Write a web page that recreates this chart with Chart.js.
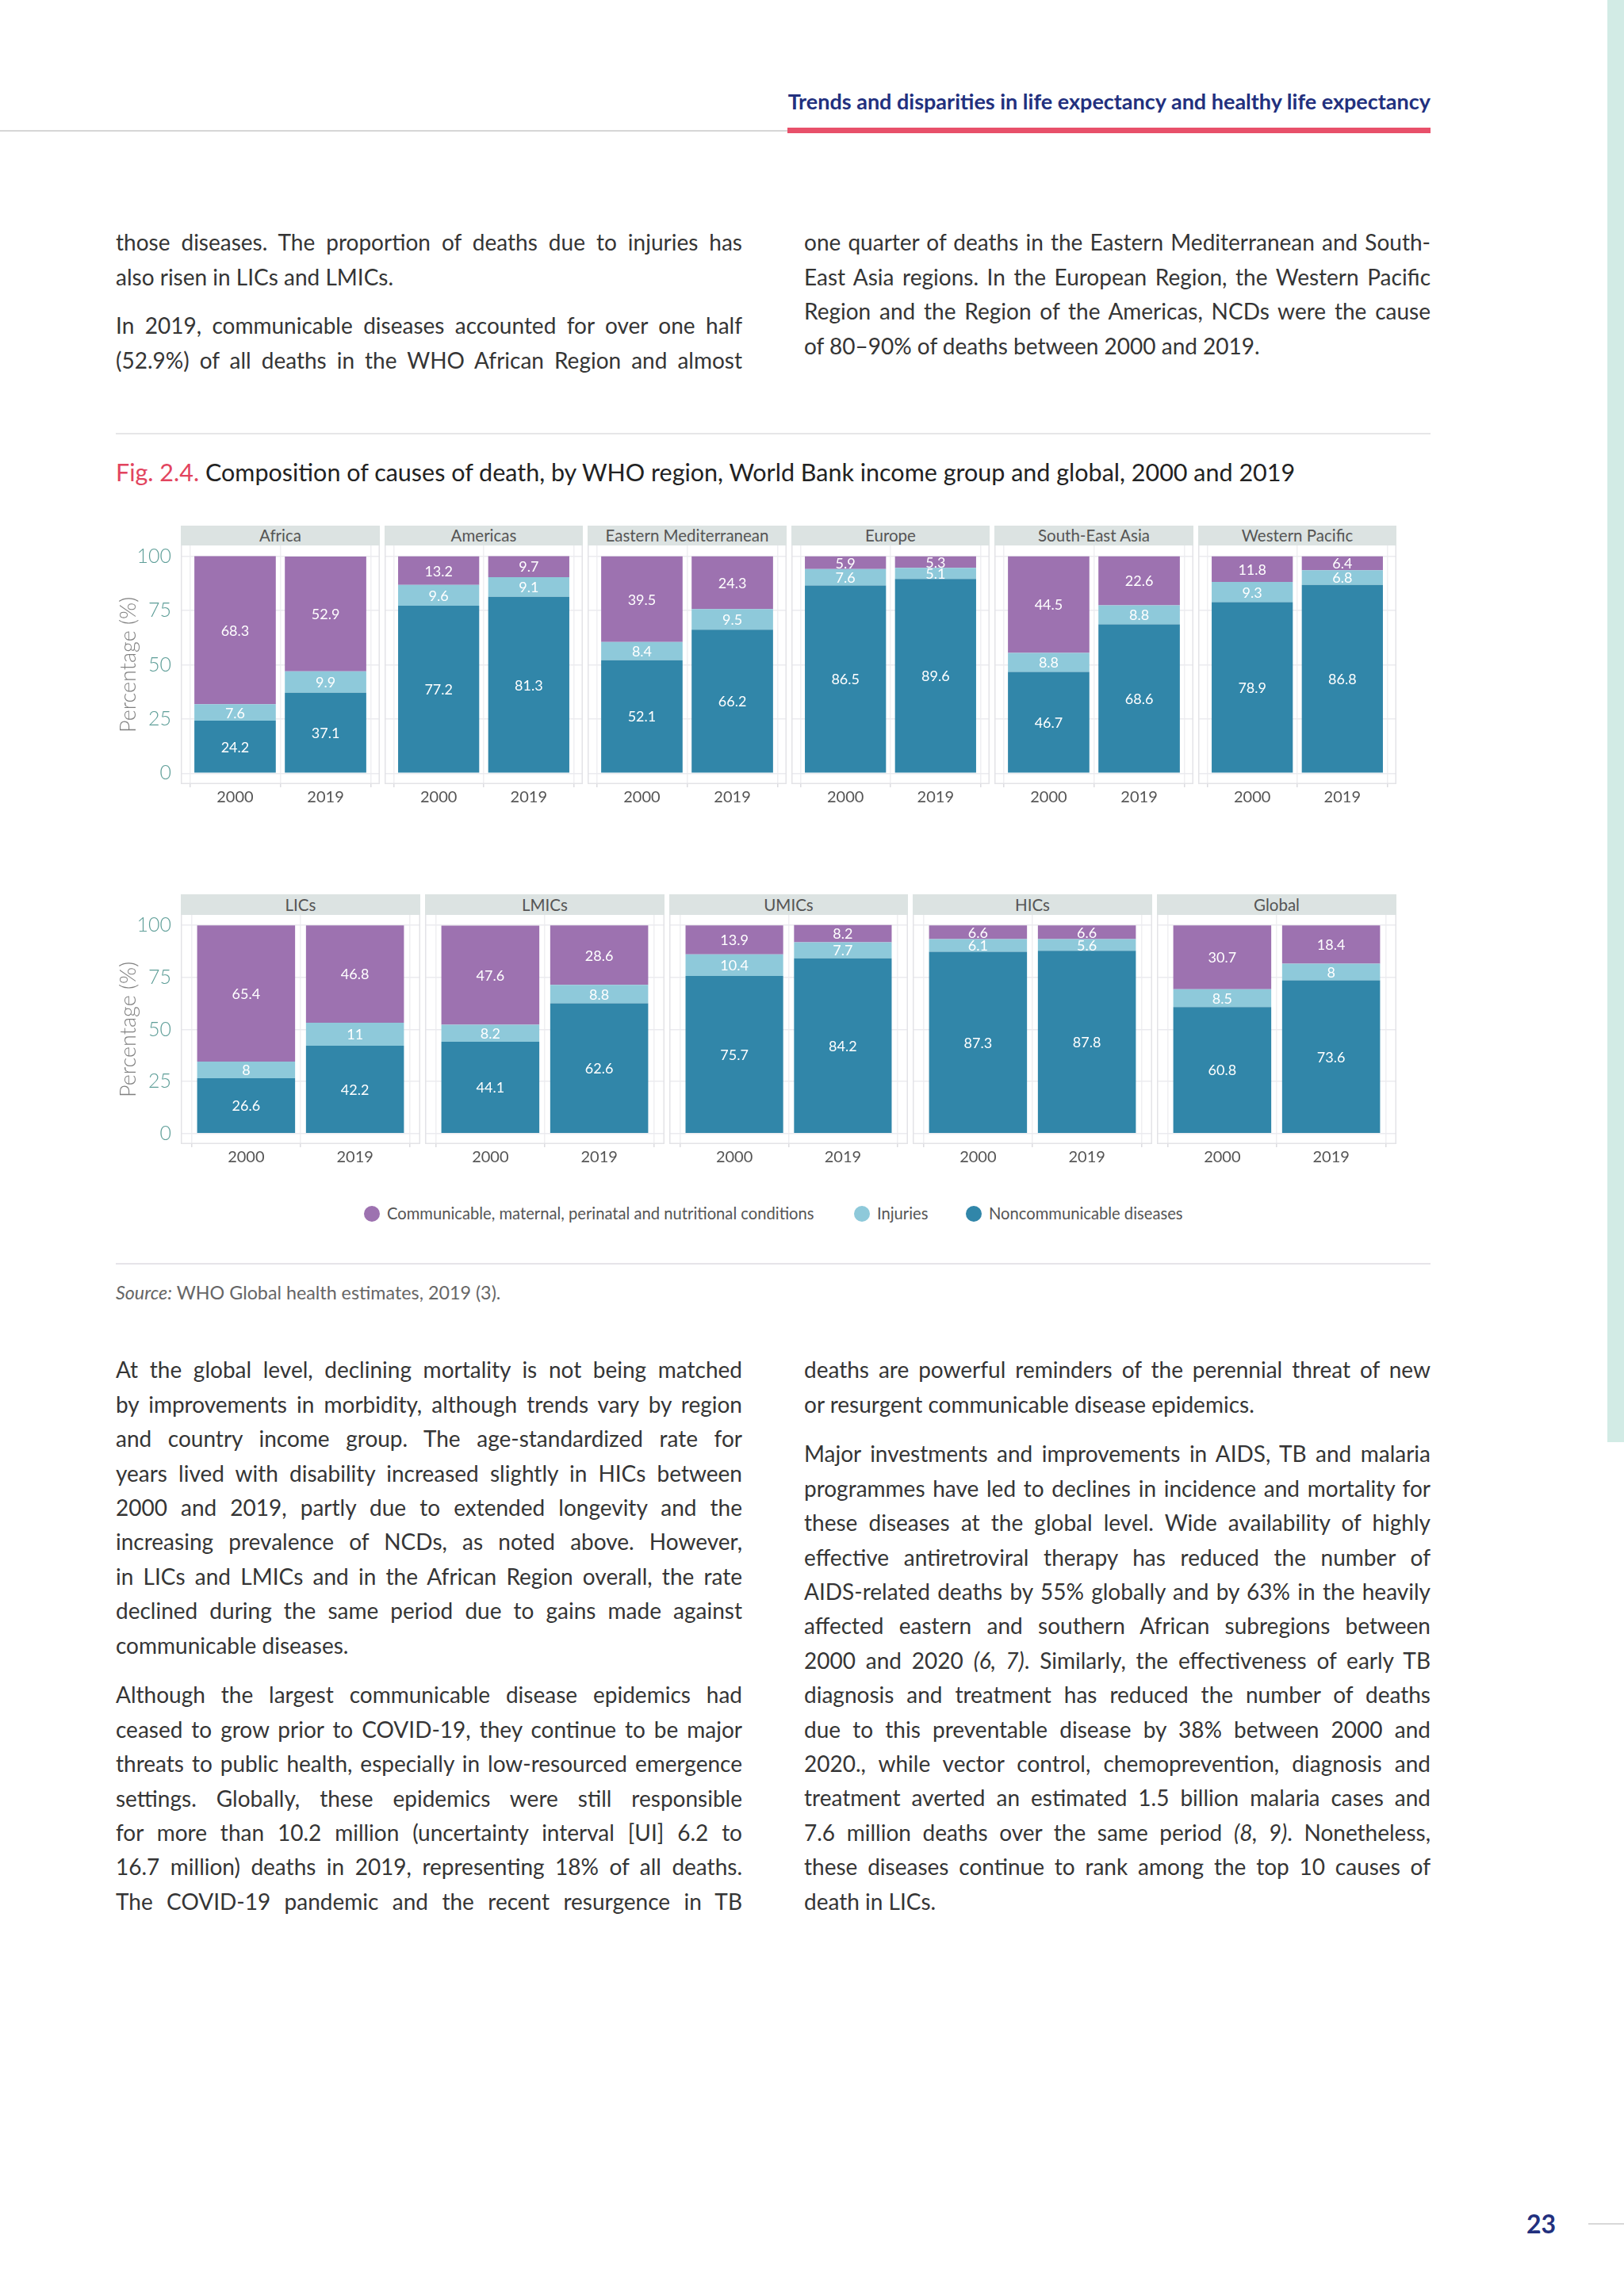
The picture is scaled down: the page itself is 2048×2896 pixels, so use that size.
<!DOCTYPE html>
<html><head><meta charset="utf-8">
<script src="https://cdn.jsdelivr.net/npm/chart.js@4/dist/chart.umd.min.js"></script>
<style>
html,body{margin:0;padding:0;background:#ffffff;}
body{width:2048px;height:2896px;position:relative;overflow:hidden;font-family:Lato,"Noto Sans",sans-serif;}
.abs{position:absolute;}
.line{position:absolute;white-space:nowrap;font-size:28px;color:#353535;line-height:43.4px;height:43.4px;}
.strip{position:absolute;background:#dce3e2;color:#555;font-size:20.5px;text-align:center;box-sizing:border-box;}
canvas{position:absolute;}
.leg{position:absolute;font-size:20.2px;color:#555;white-space:nowrap;line-height:24px;}
.dot{position:absolute;width:20px;height:20px;border-radius:50%;}
</style>
</head><body>
<div class="abs" style="left:2027px;top:0;width:21px;height:1819px;background:#d2ebe5;"></div>
<div class="abs" style="right:244px;top:110px;font-size:27px;font-weight:700;color:#22307e;white-space:nowrap;line-height:36px;">Trends and disparities in life expectancy and healthy life expectancy</div>
<div class="abs" style="left:0;top:164px;width:993px;height:2px;background:#d6d6d6;"></div>
<div class="abs" style="left:993px;top:161px;width:811px;height:7px;background:#e8506a;"></div>
<div class="abs" style="left:146px;top:546px;width:1658px;height:2px;background:#e6e6e8;"></div>
<div class="abs" style="left:146px;top:575px;font-size:30.5px;color:#222;white-space:nowrap;line-height:40px;"><span style="color:#e2445e;">Fig. 2.4.</span> Composition of causes of death, by WHO region, World Bank income group and global, 2000 and 2019</div>
<div class="abs" style="left:146px;top:1593px;width:1658px;height:2px;background:#e6e4e9;"></div>
<div class="abs" style="left:146px;top:1616px;font-size:23.3px;color:#666;white-space:nowrap;line-height:28px;"><em>Source:</em> WHO Global health estimates, 2019 (3).</div>
<div class="abs" style="left:1925px;top:2786px;font-size:32px;font-weight:700;color:#22307e;line-height:38px;">23</div>
<div class="abs" style="left:2003px;top:2804px;width:45px;height:2px;background:#d8d8d8;"></div>
<script>
// ---------- data ----------
const groupsTop = ['Africa','Americas','Eastern Mediterranean','Europe','South-East Asia','Western Pacific'];
const groupsBottom = ['LICs','LMICs','UMICs','HICs','Global'];
const years = ['2000','2019'];
const yTicks = [0,25,50,75,100];
const seriesNames = ['Communicable, maternal, perinatal and nutritional conditions','Injuries','Noncommunicable diseases'];
const communicableTop = [[68.3,52.9],[13.2,9.7],[39.5,24.3],[5.9,5.3],[44.5,22.6],[11.8,6.4]];
const injuriesTop     = [[7.6,9.9],[9.6,9.1],[8.4,9.5],[7.6,5.1],[8.8,8.8],[9.3,6.8]];
const ncdTop          = [[24.2,37.1],[77.2,81.3],[52.1,66.2],[86.5,89.6],[46.7,68.6],[78.9,86.8]];
const communicableBottom = [[65.4,46.8],[47.6,28.6],[13.9,8.2],[6.6,6.6],[30.7,18.4]];
const injuriesBottom     = [[8,11],[8.2,8.8],[10.4,7.7],[6.1,5.6],[8.5,8]];
const ncdBottom          = [[26.6,42.2],[44.1,62.6],[75.7,84.2],[87.3,87.8],[60.8,73.6]];
const seriesColors = ['#9d72b0','#8ec9da','#3186a9'];

// ---------- text ----------
const W = 790, LH = 43.4;
function justify(d){
  const sp = d.firstChild;
  const w = sp.getBoundingClientRect().width;
  const gaps = (sp.textContent.match(/ /g)||[]).length;
  if (gaps>0) d.style.wordSpacing = ((W - w)/gaps)+'px';
}
function para(x, y0, lines, lastJust){
  lines.forEach((t,i)=>{
    const d = document.createElement('div');
    d.className='line';
    d.style.left = x+'px';
    d.style.top = (y0 + i*LH - LH/2)+'px';
    d.innerHTML = '<span>'+t+'</span>';
    document.body.appendChild(d);
    if (i < lines.length-1 || lastJust) justify(d);
  });
}
para(146, 306, ['those diseases. The proportion of deaths due to injuries has','also risen in LICs and LMICs.'], false);
para(146, 411, ['In 2019, communicable diseases accounted for over one half','(52.9%) of all deaths in the WHO African Region and almost'], true);
para(1014, 306, ['one quarter of deaths in the Eastern Mediterranean and South-','East Asia regions. In the European Region, the Western Pacific','Region and the Region of the Americas, NCDs were the cause','of 80–90% of deaths between 2000 and 2019.'], false);
para(146, 1728, ['At the global level, declining mortality is not being matched','by improvements in morbidity, although trends vary by region','and country income group. The age-standardized rate for','years lived with disability increased slightly in HICs between','2000 and 2019, partly due to extended longevity and the','increasing prevalence of NCDs, as noted above. However,','in LICs and LMICs and in the African Region overall, the rate','declined during the same period due to gains made against','communicable diseases.'], false);
para(146, 2138, ['Although the largest communicable disease epidemics had','ceased to grow prior to COVID-19, they continue to be major','threats to public health, especially in low-resourced emergence','settings. Globally, these epidemics were still responsible','for more than 10.2 million (uncertainty interval [UI] 6.2 to','16.7 million) deaths in 2019, representing 18% of all deaths.','The COVID-19 pandemic and the recent resurgence in TB'], true);
para(1014, 1728, ['deaths are powerful reminders of the perennial threat of new','or resurgent communicable disease epidemics.'], false);
para(1014, 1834, ['Major investments and improvements in AIDS, TB and malaria','programmes have led to declines in incidence and mortality for','these diseases at the global level. Wide availability of highly','effective antiretroviral therapy has reduced the number of','AIDS-related deaths by 55% globally and by 63% in the heavily','affected eastern and southern African subregions between','2000 and 2020 <em>(6, 7)</em>. Similarly, the effectiveness of early TB','diagnosis and treatment has reduced the number of deaths','due to this preventable disease by 38% between 2000 and','2020., while vector control, chemoprevention, diagnosis and','treatment averted an estimated 1.5 billion malaria cases and','7.6 million deaths over the same period <em>(8, 9)</em>. Nonetheless,','these diseases continue to rank among the top 10 causes of','death in LICs.'], false);

// ---------- legend ----------
const legX = [469, 1087, 1228];
seriesNames.forEach((n,i)=>{
  const d = document.createElement('div'); d.className='dot';
  d.style.left=(legX[i]-10)+'px'; d.style.top=(1531-10)+'px'; d.style.background=seriesColors[i];
  document.body.appendChild(d);
  const t = document.createElement('div'); t.className='leg';
  t.style.left=(legX[i]+19)+'px'; t.style.top=(1531-13)+'px'; t.textContent=n;
  document.body.appendChild(t);
});

// ---------- charts ----------
const valueLabels = {
  id:'valueLabels',
  afterDatasetsDraw(chart){
    const ctx = chart.ctx;
    ctx.save();
    ctx.fillStyle='#ffffff';
    ctx.font='400 18px Lato';
    ctx.textAlign='center'; ctx.textBaseline='middle';
    chart.data.datasets.forEach((ds,di)=>{
      chart.getDatasetMeta(di).data.forEach((bar,k)=>{
        const p = bar.getProps(['x','y','base'], true);
        ctx.fillText(String(ds.data[k].y), p.x, (p.y+p.base)/2 + 1);
      });
    });
    ctx.restore();
  }
};
const panelBorder = {
  id:'panelBorder',
  beforeDatasetsDraw(chart){
    const a = chart.chartArea, ctx = chart.ctx;
    ctx.save(); ctx.strokeStyle='#e3e3e7'; ctx.lineWidth=1.5;
    ctx.strokeRect(a.left+0.75, a.top-1, a.right-a.left-1.5, a.bottom-a.top+0.25);
    ctx.restore();
  }
};

function makePanel(name, left, width, stripTop, stripH, panelH, comm, inj, ncd, showY){
  const s = document.createElement('div'); s.className='strip';
  s.style.left=left+'px'; s.style.top=stripTop+'px'; s.style.width=width+'px'; s.style.height=stripH+'px';
  s.style.lineHeight=stripH+'px'; s.textContent=name;
  document.body.appendChild(s);
  const yw = showY ? 88 : 0;
  const c = document.createElement('canvas');
  c.width = width + yw; c.height = panelH + 34;
  c.style.left = (left - yw)+'px'; c.style.top = (stripTop+stripH)+'px';
  document.body.appendChild(c);
  const mk = (arr)=>years.map((_,k)=>({x:k, y:arr[k]}));
  new Chart(c, {
    type:'bar',
    data:{datasets:[
      {label:seriesNames[2], data:mk(ncd), backgroundColor:seriesColors[2]},
      {label:seriesNames[1], data:mk(inj), backgroundColor:seriesColors[1]},
      {label:seriesNames[0], data:mk(comm), backgroundColor:seriesColors[0]}
    ]},
    options:{
      responsive:false, animation:false, devicePixelRatio:1,
      layout:{padding:0},
      plugins:{legend:{display:false}, tooltip:{enabled:false}},
      datasets:{bar:{barPercentage:0.9, categoryPercentage:1, borderWidth:0}},
      scales:{
        x:{type:'linear', min:-0.6, max:1.6, stacked:true, offset:false,
          afterBuildTicks:sc=>{sc.ticks = years.map((_,k)=>({value:k}));},
          ticks:{callback:(v,i)=>years[i], color:'#555', font:{family:'Lato', size:20}, padding:1, maxRotation:0, autoSkip:false},
          grid:{color:'#efeff2', lineWidth:1.5, drawTicks:true, tickLength:4, tickColor:'#dcdce0'},
          border:{display:false},
          afterFit:sc=>{sc.height = 34; sc.paddingLeft = 0; sc.paddingRight = 0;}
        },
        y:{min:-5, max:105, stacked:true,
          afterBuildTicks:sc=>{sc.ticks = yTicks.map(v=>({value:v}));},
          ticks:{display:showY, color:'#5e9e98', font:{family:'Lato', size:25, weight:'300'}, padding:12},
          grid:{color:'#ebebef', lineWidth:1.5, drawTicks:false},
          border:{display:false},
          title:{display:showY, text:'Percentage (%)', color:'#808080', font:{family:'Lato', size:27, weight:'300'}, padding:{top:6,bottom:0}},
          afterFit:sc=>{sc.width = yw; sc.paddingTop = 0; sc.paddingBottom = 0;}
        }
      }
    },
    plugins:[panelBorder, valueLabels]
  });
}
groupsTop.forEach((g,i)=>{
  const l = Math.round(228 + i*256.5), r = Math.round(228 + i*256.5 + 250.5);
  makePanel(g, l, r-l, 663, 25, 301, communicableTop[i], injuriesTop[i], ncdTop[i], i===0);
});
groupsBottom.forEach((g,i)=>{
  const l = Math.round(228 + i*307.8), r = Math.round(228 + i*307.8 + 301.8);
  makePanel(g, l, r-l, 1128, 26, 289, communicableBottom[i], injuriesBottom[i], ncdBottom[i], i===0);
});
</script>
</body></html>
